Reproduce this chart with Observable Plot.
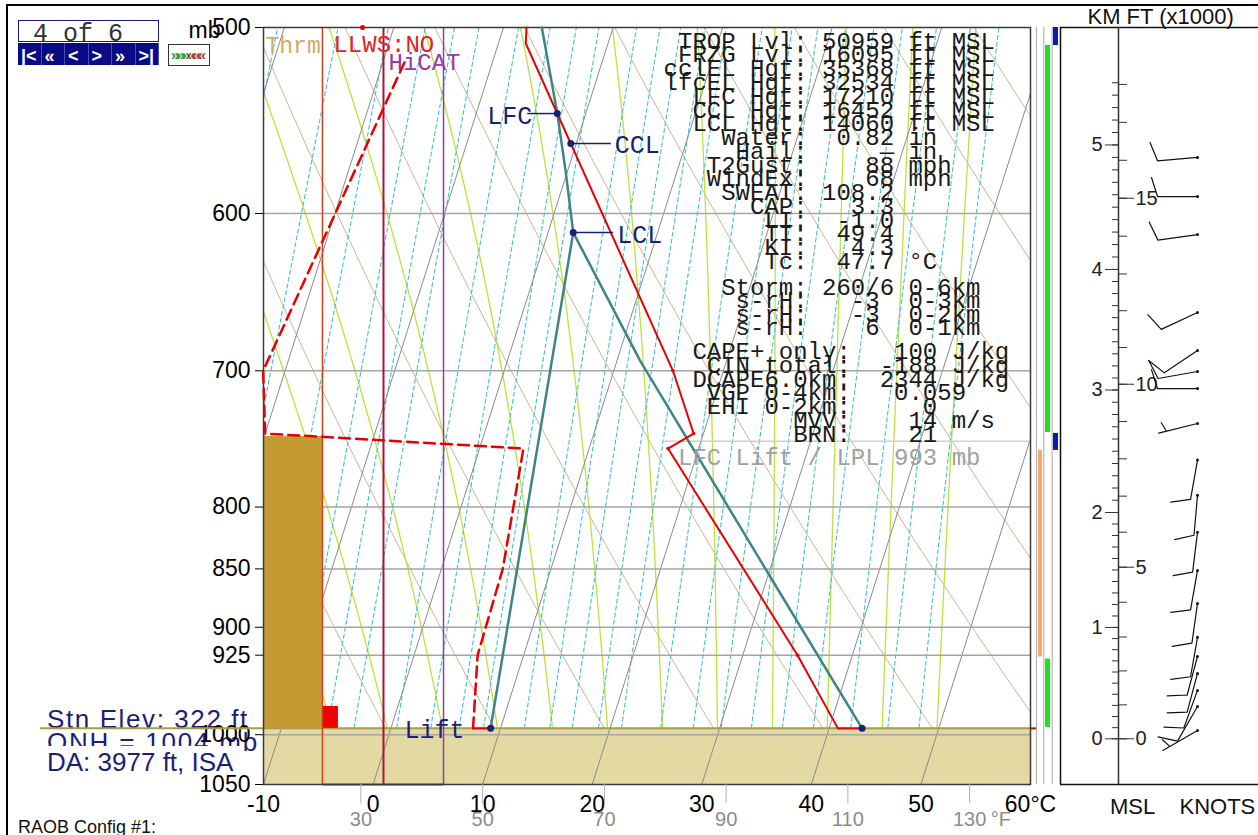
<!DOCTYPE html>
<html><head><meta charset="utf-8">
<script src="https://cdn.jsdelivr.net/npm/d3@7"></script>
<script src="https://cdn.jsdelivr.net/npm/@observablehq/plot@0.6"></script>
<style>
html,body{margin:0;padding:0;background:#fff;}
#wrap{position:relative;width:1258px;height:835px;overflow:hidden;background:#fff;font-family:'Liberation Sans',Arial,sans-serif;}
#wrap > svg{position:absolute;top:0;}
.abs{position:absolute;white-space:pre;}
.stat{position:absolute;font-family:'Liberation Mono','Courier New',monospace;font-size:24px;line-height:24px;color:#1a1a1a;white-space:pre;}
</style></head><body><div id="wrap"></div>
<script>
// ================= DATA =================
const pressureTicks = [500, 600, 700, 800, 850, 900, 925, 1000, 1050];
const isobarLevels = [600, 700, 800, 850, 900, 925, 1000];
const tempTicksC = [-10, 0, 10, 20, 30, 40, 50, 60];
const tempTicksF = [30, 50, 70, 90, 110, 130];

// observed temperature (°C) and dew point profile, pressure in mb
const tempP = [993.8, 925, 755.4, 744.4, 700, 507.9, 500];
const tempC = [40.8, 35.0, 17.2, 19.1, 15.4, -7.5, -7.9];
const dewP = [993.8, 925, 850, 755.4, 744.4, 700, 516.4];
const dewC = [7.5, 5.8, 5.6, 4.0, -20.0, -22.0, -18.0];
// lifted parcel path and lift (mixing ratio) line
const parcelP = [993.8, 857.2, 693.0, 611.3, 575.2, 544.0, 500];
const parcelC = [43.0, 30.3, 12.1, 2.3, -0.2, -2.6, -6.5];
const liftP = [993.8, 611.3];
const liftC = [9.1, 2.3];
// named levels
const levelNames = ["LFC", "CCL", "LCL", "Lift"];
const levelP = [544.0, 560.2, 611.3, 993.8];
const levelC = [-2.6, -0.5, 2.3, 9.1];
const surfaceP = 993.8;

// indicator columns (skewed x-axis °C)
const columnNames = ["Thrm", "LLWS:NO", "HiCAT"];
const columnX = [-4.62, 0.95, 6.43];
const thermalTopP = 746.6;
const redBoxTopP = 972.7;
const redBoxRightX = -3.16;

// stability / index text panel
const statGroupA = [
  " TROP Lvl: 50959 ft MSL",
  " FRZG Lvl: 16095 ft MSL",
  "cclEL Hgt: 35368 ft MSL",
  "lfcEL Hgt: 32534 ft MSL",
  "  LFC Hgt: 17210 ft MSL",
  "  CCL Hgt: 16452 ft MSL",
  "  LCL Hgt: 14060 ft MSL",
  "    Water:  0.82 in",
  "     Hail:     — in",
  "   T2Gust:    88 mph",
  "   WindEx:    68 mph",
  "    SWEAT: 108.2",
  "      CAP:   3.3",
  "       LI:  -1.0",
  "       TT:  49.4",
  "       KI:   4.3",
  "       Tc:  47.7 °C"
];
const statGroupB = [
  "    Storm: 260/6 0-6km",
  "     s-rH:   -3  0-3km",
  "     s-rH:   -3  0-2km",
  "     s-rH:    6  0-1km"
];
const statGroupC = [
  "  CAPE+ only:   100 J/kg",
  "   CIN total:  -188 J/kg",
  "  DCAPE6.0km:  2344 J/kg",
  "   VGP 0-4km:   0.059",
  "   EHI 0-2km:     0",
  "         MVV:    14 m/s",
  "         BRN:    21"
];
const statLPL = " LFC Lift / LPL 993 mb";

// winds (pressure mb, direction deg, speed kt)
const windP = [567.9, 590.1, 612.5, 661.1, 686.2, 700.5, 712.3, 737.1, 764.0, 790.9, 820.1, 851.3, 879.3, 909.0, 926.1, 941.7, 957.5, 972.7, 995.8];
const windDir = [265, 270, 262, 245, 236, 260, 270, 256, 190, 185, 187, 190, 188, 190, 195, 195, 200, 210, 240];
const windKt = [10, 10, 10, 10, 10, 10, 10, 5, 10, 10, 10, 10, 10, 10, 10, 10, 10, 10, 5];

// height axis anchors (km MSL -> mb)
const kmAnchors = [0, 1, 2, 3, 4, 5, 6];
const kmAnchorP = [1004, 900.2, 804.3, 713.3, 633.8, 561.0, 496.6];
const kmLabels = [0, 1, 2, 3, 4, 5];
const ftLabels = [0, 5, 10, 15];

// layer strips
const layerType = ["blue", "green", "blue", "orange", "green"];
const layerTopP = [500, 508.9, 744.3, 756.8, 928.5];
const layerBotP = [508.9, 743.6, 756.8, 926.6, 992.9];

// background line families
const isothermT = d3.range(-40, 61, 10);
const dryTheta = d3.range(-30, 201, 10);
const moistThetaW = d3.range(-20, 51, 5);
const mixW = [0.4, 0.6, 1, 1.5, 2, 2.5, 3, 4, 5, 6, 7, 9, 10.5, 12, 14, 16, 20, 24, 28, 33, 39, 46, 56, 68, 80];

// ================= HELPERS =================
const SKEW = 29.52;
const sk = (t, p) => t + SKEW * Math.log(1050 / p);
const es = T => 6.112 * Math.exp(17.67 * T / (T + 243.5));
function moistDTdp(T, p) {
  const Tk = T + 273.15, Rd = 287.04, cp = 1005.7, L = 2.501e6;
  const e = es(T), r = 0.622 * e / (p - e);
  return (1 / p) * (Rd * Tk + L * r) / (cp + (L * L * r * 0.622) / (Rd * Tk * Tk));
}
const gridP = d3.range(1000, 499, -5);
const isoData = isothermT.flatMap(t => [{k: t, t, p: 1050}, {k: t, t, p: 500}]);
const dryData = dryTheta.flatMap(th => gridP.map(p => ({k: th, p, t: (th + 273.15) * Math.pow(p / 1000, 0.2857) - 273.15})));
const moistData = [];
for (const tw of moistThetaW) {
  let T = tw, p = 1000;
  moistData.push({k: tw, p, t: T});
  while (p > 500.1) {
    const dp = -5;
    const k1 = moistDTdp(T, p);
    const k2 = moistDTdp(T + k1 * dp / 2, p + dp / 2);
    const k3 = moistDTdp(T + k2 * dp / 2, p + dp / 2);
    const k4 = moistDTdp(T + k3 * dp, p + dp);
    T += dp * (k1 + 2 * k2 + 2 * k3 + k4) / 6; p += dp;
    moistData.push({k: tw, p, t: T});
  }
}
const mixData = mixW.flatMap(w => gridP.map(p => {
  const e = w * p / (622 + w), a = Math.log(e / 6.112);
  return {k: w, p, t: 243.5 * a / (17.67 - a)};
}));

const rows = (P, C) => P.map((p, i) => ({p, t: C[i]}));
const temp = rows(tempP, tempC), dew = rows(dewP, dewC), parcel = rows(parcelP, parcelC), lift = rows(liftP, liftC);
const levels = levelNames.map((n, i) => ({name: n, p: levelP[i], t: levelC[i]}));
const X = d => sk(d.t, d.p);
const pxPerC = (1030 - 263) / 70;
const lead = {LFC: -30, CCL: 40, LCL: 40};
const navy = "#1b1f78";

// ================= MAIN CHART =================
const wrap = document.getElementById("wrap");

function addDiv(html, style, cls = "abs") {
  const d = document.createElement("div");
  d.className = cls; d.setAttribute("style", style); d.innerHTML = html; wrap.appendChild(d); return d;
}
addDiv("", "left:6px;top:4px;width:1300px;height:900px;border-left:2px solid #000;border-top:2px solid #000;");
addDiv("", "left:18px;top:20px;width:139px;height:20px;border:1px solid #1a1a78;background:#fff;");
addDiv("4 of 6", "left:33px;top:22px;font-family:'Liberation Mono',monospace;font-size:25px;line-height:25px;color:#333;");
const nav = addDiv("", "left:18px;top:43px;width:141px;height:22px;background:#0a0a84;display:flex;");
["|&lt;", "«", "&lt;", "&gt;", "»", "&gt;|"].forEach(g => {
  const c = document.createElement("div");
  c.setAttribute("style", "flex:1;border-right:1px solid #4a4ab0;color:#fff;font:bold 18px 'Liberation Sans',Arial;line-height:27px;padding-left:3px;overflow:hidden;");
  c.innerHTML = g; nav.appendChild(c);
});
addDiv("<span style='color:#2a9a2a'>»»»</span><span style='color:#a04030'>«««</span>", "left:168px;top:44px;width:38px;height:20px;border:1px solid #333;font:bold 15px 'Liberation Sans',Arial;line-height:20px;letter-spacing:-3px;padding-left:2px;overflow:hidden;");
addDiv("Stn Elev: 322 ft", "left:47px;top:706px;font-size:26px;line-height:26px;letter-spacing:1.6px;color:" + navy + ";");
addDiv("QNH = 1004 mb", "left:47px;top:729px;font-size:26px;line-height:26px;letter-spacing:1.8px;color:" + navy + ";");
addDiv("DA: 3977 ft, ISA", "left:45px;top:746px;width:196px;height:30px;padding-left:2px;padding-top:3px;box-sizing:border-box;font-size:26px;line-height:26px;color:" + navy + ";background:#fff;");
addDiv("RAOB Config #1:", "left:18px;top:818px;font-size:18px;line-height:18px;color:#111;");

const main = Plot.plot({
  width: 1258, height: 835,
  marginLeft: 263, marginRight: 228, marginTop: 27, marginBottom: 51,
  style: {fontFamily: "'Liberation Sans', Arial, sans-serif", fontSize: "23px", background: "transparent", color: "#000", overflow: "visible"},
  x: {domain: [-10, 60], ticks: tempTicksC, tickFormat: d => d === 60 ? "60°C" : String(d), tickSize: 0, tickPadding: 11, label: null},
  y: {type: "log", domain: [1050, 500], ticks: pressureTicks, tickFormat: d => String(d), tickSize: 8, tickPadding: 5, label: null},
  marks: [
    Plot.line(dryData, {x: X, y: "p", z: "k", stroke: "#c9b68e", strokeWidth: 1, clip: true}),
    Plot.line(moistData, {x: X, y: "p", z: "k", stroke: "#bde23c", strokeWidth: 1.3, clip: true}),
    Plot.line(mixData, {x: X, y: "p", z: "k", stroke: "#3ec3cc", strokeWidth: 1.1, strokeDasharray: "4,3", clip: true}),
    Plot.rect([surfaceP], {x1: -10, x2: 60, y1: d => d, y2: 1050, fill: "#e3d9a3"}),
    Plot.line(isoData, {x: X, y: "p", z: "k", stroke: "#8a8a8a", strokeWidth: 1, clip: true}),
    Plot.ruleY(isobarLevels, {stroke: "#a5a5a5", strokeWidth: 1.5}),
    Plot.ruleY([750], {x1: 26.5, x2: 60, stroke: "#cfcfcf", strokeWidth: 1.5}),
    Plot.ruleY([surfaceP], {x1: -30.35, x2: 60, stroke: "#a99c47", strokeWidth: 2}),
    Plot.rect([thermalTopP], {x1: -10, x2: columnX[0], y1: d => d, y2: surfaceP, fill: "#c49a32"}),
    Plot.rect([redBoxTopP], {x1: columnX[0], x2: redBoxRightX, y1: d => d, y2: surfaceP, fill: "#f20000"}),
    Plot.ruleX([columnX[0]], {y1: 500, y2: 1050, stroke: "#d8401c", strokeWidth: 1.5}),
    Plot.ruleX([columnX[1]], {y1: 500, y2: 1050, stroke: "#a8143c", strokeWidth: 2}),
    Plot.ruleX([columnX[2]], {y1: 500, y2: 1050, stroke: "#9040a0", strokeWidth: 1.5}),
    Plot.link([0], {x1: columnX[0], x2: columnX[1], y1: 1050, y2: 1050, stroke: "#d8401c", strokeWidth: 2}),
    Plot.link([0], {x1: columnX[1], x2: columnX[2], y1: 1050, y2: 1050, stroke: "#9040a0", strokeWidth: 2}),
    Plot.frame({stroke: "#3a3a3a", strokeWidth: 1.5}),
    // °F secondary scale
    Plot.ruleX(tempTicksF, {x: f => (f - 32) * 5 / 9, y1: 1050, y2: 1070, stroke: "#b0b0b0"}),
    Plot.text(tempTicksF, {x: f => (f - 32) * 5 / 9, y: 1050, dy: 35, text: f => String(f), fill: "#8c8c8c", fontSize: 20}),
    Plot.text(["°F"], {x: (130 - 32) * 5 / 9, y: 1050, dy: 35, dx: 21, textAnchor: "start", fill: "#8c8c8c", fontSize: 20}),
    Plot.text(["mb"], {frameAnchor: "top-left", dx: -75, dy: 3, lineAnchor: "middle", textAnchor: "start", fontSize: 23}),
    // column labels
    Plot.text([columnNames[0]], {x: -10, y: 500, dx: 2, dy: 18, textAnchor: "start", fill: "#d4aa64", fontFamily: "'Liberation Mono', monospace", fontSize: 23}),
    Plot.text([columnNames[1]], {x: columnX[0], y: 500, dx: 11, dy: 17, textAnchor: "start", fill: "#e02424", fontFamily: "'Liberation Mono', monospace", fontSize: 24}),
    Plot.text([columnNames[2]], {x: columnX[1], y: 500, dx: 5, dy: 35, textAnchor: "start", fill: "#9a38a8", fontFamily: "'Liberation Mono', monospace", fontSize: 24}),
    Plot.dot([0], {x: -0.96, y: 500, r: 2.5, fill: "#e00000"}),
    // profiles
    Plot.line(parcel, {x: X, y: "p", stroke: "#3f8585", strokeWidth: 2.5}),
    Plot.line(lift, {x: X, y: "p", stroke: "#3f8585", strokeWidth: 2.5}),
    Plot.line(dew, {x: X, y: "p", stroke: "#e80000", strokeWidth: 2.5, strokeDasharray: "11,6"}),
    Plot.line(temp, {x: X, y: "p", stroke: "#e80000", strokeWidth: 2}),
    Plot.link([0], {x1: sk(tempC[0], surfaceP), x2: sk(parcelC[0], surfaceP), y1: surfaceP, y2: surfaceP, stroke: "#e80000", strokeWidth: 2}),
    Plot.link([0], {x1: sk(dewC[0], surfaceP), x2: sk(liftC[0], surfaceP), y1: surfaceP, y2: surfaceP, stroke: "#e80000", strokeWidth: 2}),
    Plot.dot(temp.slice(1, 5), {x: X, y: "p", r: 1.8, fill: "#e80000"}),
    // level markers
    Plot.link(levels.filter(d => lead[d.name]), {x1: X, x2: d => X(d) + lead[d.name] / pxPerC, y1: "p", y2: "p", stroke: navy, strokeWidth: 1.5}),
    Plot.dot(levels.concat([{p: parcelP[0], t: parcelC[0]}]), {x: X, y: "p", r: 3.5, fill: navy}),
    Plot.text(levels.filter(d => d.name === "LFC"), {x: X, y: "p", text: "name", dx: -25, dy: 2, textAnchor: "end", fill: navy, fontFamily: "'Liberation Mono', monospace", fontSize: 25}),
    Plot.text(levels.filter(d => d.name === "CCL" || d.name === "LCL"), {x: X, y: "p", text: "name", dx: 44, dy: 2, textAnchor: "start", fill: navy, fontFamily: "'Liberation Mono', monospace", fontSize: 25}),
    Plot.text(levels.filter(d => d.name === "Lift"), {x: X, y: "p", text: "name", dx: -26, dy: 2, textAnchor: "end", fill: navy, fontFamily: "'Liberation Mono', monospace", fontSize: 25})
  ]
});
main.style.left = "0px";
wrap.appendChild(main);

// text panel
const colX = 663.6;
statGroupA.forEach((s, i) => addDiv(s, `left:${colX}px;top:${41.7 + i * 13.77 - 11}px;`, "stat"));
statGroupB.forEach((s, i) => addDiv(s, `left:${colX}px;top:${288 + i * 13.4 - 11}px;`, "stat"));
statGroupC.forEach((s, i) => addDiv(s, `left:${colX}px;top:${352 + i * 13.8 - 11}px;`, "stat"));
addDiv(statLPL, `left:${colX}px;top:${458 - 11}px;color:#a0a0a0;`, "stat");

// ================= RIGHT PANEL =================
function hp(km) {
  let i = Math.max(0, Math.min(kmAnchors.length - 2, Math.floor(km)));
  const t = (km - kmAnchors[i]) / (kmAnchors[i + 1] - kmAnchors[i]);
  return Math.exp(Math.log(kmAnchorP[i]) * (1 - t) + Math.log(kmAnchorP[i + 1]) * t);
}
function barbShape(speed) {
  return {
    draw(ctx, l) {
      ctx.moveTo(0, 0); ctx.lineTo(0, -l);
      const full = Math.floor(speed / 10), half = speed % 10 >= 5;
      let pos = -l;
      for (let i = 0; i < full; i++) { ctx.moveTo(0, pos); ctx.lineTo(19, pos - 6); pos += 6; }
      if (half) { if (full === 0) pos = -l + 8; ctx.moveTo(0, pos); ctx.lineTo(9.5, pos - 3); }
    }
  };
}
const winds = windP.map((p, i) => ({p, dir: windDir[i], kt: windKt[i]}));
const layers = layerType.map((k, i) => ({k, top: layerTopP[i], bot: layerBotP[i]}));
const layerCol = {green: [15, 20], orange: [8, 12], blue: [23, 28]};
const layerFill = {green: "#1ee01e", orange: "#f9a868", blue: "#0a1ab4"};
const kmMinor = d3.range(0, 56).map(i => i / 10);
const ftMinor = d3.range(0, 19);

const panel = Plot.plot({
  width: 228, height: 835, marginLeft: 0, marginRight: 0, marginTop: 27, marginBottom: 51,
  style: {fontFamily: "'Liberation Sans', Arial, sans-serif", fontSize: "20px", background: "transparent", color: "#222", overflow: "visible"},
  x: {domain: [0, 228], axis: null},
  y: {type: "log", domain: [1050, 500], axis: null},
  marks: [
    Plot.ruleX([6, 13.3, 21.7], {y1: 500, y2: 1050, stroke: "#b4b4b4", strokeWidth: 1.2}),
    Plot.rect(layers, {x1: d => layerCol[d.k][0], x2: d => layerCol[d.k][1], y1: "top", y2: "bot", fill: d => layerFill[d.k]}),
    Plot.ruleY([surfaceP], {x1: 1, x2: 6, stroke: "#e00000", strokeWidth: 2}),
    Plot.ruleX([30], {y1: 500, y2: 1050, stroke: "#111", strokeWidth: 1.5}),
    Plot.ruleY([500, 1050], {x1: 30, x2: 228, stroke: "#111", strokeWidth: 1.5}),
    Plot.ruleX([88], {y1: 500, y2: 1050, stroke: "#333", strokeWidth: 1.5}),
    Plot.ruleY(kmMinor, {y: hp, x1: 82, x2: 88, stroke: "#333"}),
    Plot.ruleY(kmLabels, {y: hp, x1: 75, x2: 88, stroke: "#333"}),
    Plot.text(kmLabels, {y: hp, x: 72, text: d => String(d), textAnchor: "end"}),
    Plot.ruleY(ftMinor, {y: f => hp(f * 0.3048), x1: 88, x2: 97, stroke: "#333"}),
    Plot.ruleY(ftLabels, {y: f => hp(f * 0.3048), x1: 88, x2: 104, stroke: "#333"}),
    Plot.text(ftLabels, {y: f => hp(f * 0.3048), x: 105, text: d => String(d), textAnchor: "start"}),
    ...[...new Set(windKt)].map(s => Plot.vector(winds.filter(w => w.kt === s), {x: 167, y: "p", rotate: "dir", length: 40, anchor: "start", shape: barbShape(s), stroke: "#111", strokeWidth: 1.2})),
    Plot.dot(winds, {x: 167, y: "p", r: 1.5, fill: "#111"}),
    Plot.text(["KM FT (x1000)"], {frameAnchor: "top-left", dx: 57, dy: -11, lineAnchor: "middle", textAnchor: "start", fontSize: 22, fill: "#111"}),
    Plot.text(["MSL"], {frameAnchor: "bottom-left", dx: 102, dy: 22, lineAnchor: "middle", textAnchor: "middle", fontSize: 22, fill: "#111"}),
    Plot.text(["KNOTS"], {frameAnchor: "bottom-left", dx: 149, dy: 22, lineAnchor: "middle", textAnchor: "start", fontSize: 22, fill: "#111"})
  ]
});
panel.style.left = "1030px";
wrap.appendChild(panel);
</script></body></html>
